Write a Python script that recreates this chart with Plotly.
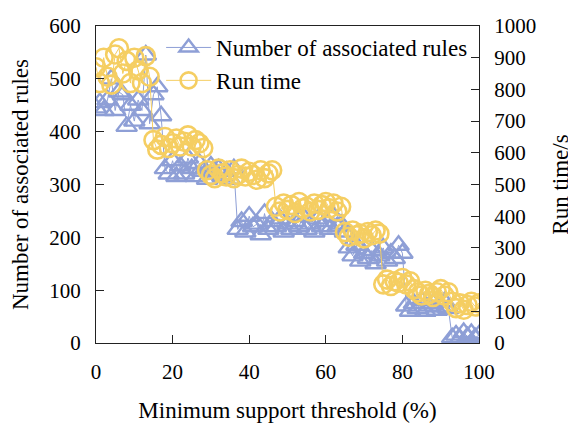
import plotly.graph_objects as go

threshold = list(range(0, 101))

rules = [445, 455, 440, 460, 500, 440, 475, 470, 410, 450,
         420, 460, 440, 545, 415, 470, 485, 430, 330, 320,
         345, 315, 335, 320, 350, 330, 315, 340, 325, 310,
         335, 320, 330, 315, 325, 310, 330, 215, 230, 210,
         240, 220, 225, 205, 245, 215, 230, 220, 235, 210,
         225, 215, 230, 220, 240, 215, 225, 210, 235, 220,
         230, 215, 240, 220, 225, 210, 180, 165, 185, 155,
         170, 160, 175, 150, 165, 180, 155, 170, 160, 185,
         170, 70, 60, 75, 65, 80, 60, 70, 75, 62,
         68, 78, 65, 10, 15, 8, 20, 12, 18, 10,
         15]

run_time = [870, 820, 900, 840, 815, 910, 930, 850, 890, 820,
            900, 860, 820, 905, 840, 640, 610, 625, 650, 615,
            630, 645, 620, 635, 655, 620, 640, 630, 615, 545,
            530, 520, 550, 535, 525, 545, 520, 530, 550, 525,
            540, 530, 515, 545, 520, 535, 545, 430, 415, 440,
            420, 435, 410, 445, 425, 430, 415, 440, 420, 435,
            445, 425, 440, 415, 430, 350, 335, 355, 340, 345,
            330, 350, 340, 355, 345, 185, 200, 180, 195, 190,
            205, 185, 195, 170, 160, 150, 165, 155, 145, 160,
            170, 150, 160, 130, 110, 125, 105, 120, 130, 115,
            125]

blue = "#8E9FD6"
yellow = "#F5CE62"
font_family = "Liberation Serif, Times New Roman, Times, serif"

fig = go.Figure()
fig.add_trace(go.Scatter(
    x=threshold, y=rules, name="Number of associated rules",
    mode="lines+markers",
    line=dict(color=blue, width=1),
    marker=dict(symbol="triangle-up-open", size=18, color=blue, line=dict(width=2.4, color=blue)),
    yaxis="y"))
fig.add_trace(go.Scatter(
    x=threshold, y=run_time, name="Run time",
    mode="lines+markers",
    line=dict(color=yellow, width=1),
    marker=dict(symbol="circle-open", size=18, color=yellow, line=dict(width=2.6, color=yellow)),
    yaxis="y2"))

axis_common = dict(showline=True, linecolor="#222222", linewidth=1.3, ticks="inside",
                   ticklen=8, tickcolor="#222222", showgrid=False, zeroline=False,
                   automargin=False,
                   tickfont=dict(family=font_family, size=21, color="black"))

title_size = 23

fig.update_layout(
    width=568, height=415,
    margin=dict(l=88, r=97, t=18, b=80),
    paper_bgcolor="white", plot_bgcolor="white",
    font=dict(family=font_family, size=21, color="black"),
    showlegend=True,
    legend=dict(x=0.17, y=1.0, xanchor="left", yanchor="top", bgcolor="rgba(0,0,0,0)",
                font=dict(family=font_family, size=title_size), tracegroupgap=0, itemwidth=45),
    xaxis=dict(range=[0, 100], dtick=20, mirror=True, ticklabelstandoff=10,
               title=dict(text="Minimum support threshold (%)", standoff=18,
                          font=dict(family=font_family, size=title_size)), **axis_common),
    yaxis=dict(range=[0, 600], dtick=100, ticklabelstandoff=10,
               title=dict(text="Number of associated rules", standoff=16,
                          font=dict(family=font_family, size=title_size)), **axis_common),
    yaxis2=dict(range=[0, 1000], dtick=100, overlaying="y", side="right", ticklabelstandoff=10,
                title=dict(text="Run time/s", standoff=16,
                           font=dict(family=font_family, size=title_size)), **axis_common),
)

fig.write_html("out.html")
